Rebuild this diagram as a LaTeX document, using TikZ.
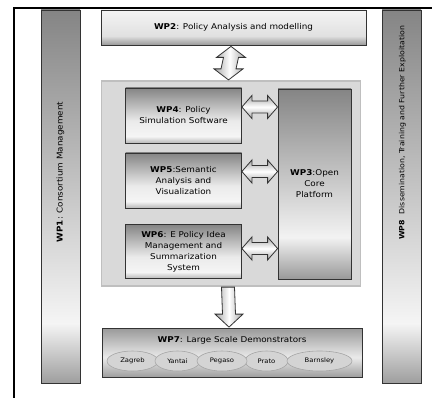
\documentclass[tikz,border=0pt]{standalone}
\usepackage{fontspec}
\setmainfont{DejaVu Sans}[FakeStretch=1.1]
\usetikzlibrary{shapes.geometric,calc}
\pgfdeclareverticalshading{barsh}{100bp}{color(0bp)=(black!38); color(25bp)=(black!38); color(33bp)=(black!4); color(75bp)=(black!48); color(100bp)=(black!48)}
\pgfdeclareverticalshading{wpsh}{100bp}{color(0bp)=(black!28); color(25bp)=(black!28); color(31bp)=(black!4); color(45bp)=(black!8); color(75bp)=(black!48); color(100bp)=(black!48)}
\pgfdeclareverticalshading{coresh}{100bp}{color(0bp)=(black!40); color(25bp)=(black!40); color(36bp)=(black!5); color(75bp)=(black!48); color(100bp)=(black!48)}
\pgfdeclareverticalshading{topsh}{100bp}{color(0bp)=(black!40); color(25bp)=(black!40); color(38bp)=(black!12); color(75bp)=(black!4); color(100bp)=(black!4)}
\pgfdeclareverticalshading{demosh}{100bp}{color(0bp)=(black!38); color(25bp)=(black!38); color(45bp)=(black!8); color(75bp)=(black!40); color(100bp)=(black!40)}
\tikzset{
  wpbox/.style={draw=black!80, line width=0.8pt, inner sep=0pt, align=center, font=\fontsize{8}{11}\selectfont},
  barbox/.style={wpbox, shading=barsh},
  arrline/.style={draw=black!80, line width=0.8pt, line join=miter},
  hdbl/.style={arrline, top color=black!35, bottom color=black!35, middle color=white,
    to path={-- ($(\tikztostart)+(10,-11.5)$) -- ($(\tikztostart)+(10,-6)$) -- ($(\tikztotarget)+(-10,-6)$) -- ($(\tikztotarget)+(-10,-11.5)$) -- (\tikztotarget) -- ($(\tikztotarget)+(-10,11.5)$) -- ($(\tikztotarget)+(-10,6)$) -- ($(\tikztostart)+(10,6)$) -- ($(\tikztostart)+(10,11.5)$) -- cycle}},
  vdbl/.style={arrline, left color=black!35, right color=black!35, middle color=white,
    to path={-- ($(\tikztostart)+(-14.5,11)$) -- ($(\tikztostart)+(-7.5,11)$) -- ($(\tikztotarget)+(-7.5,-11)$) -- ($(\tikztotarget)+(-14.5,-11)$) -- (\tikztotarget) -- ($(\tikztotarget)+(14.5,-11)$) -- ($(\tikztotarget)+(7.5,-11)$) -- ($(\tikztostart)+(7.5,11)$) -- ($(\tikztostart)+(14.5,11)$) -- cycle}},
  vdown/.style={arrline, left color=black!35, right color=black!35, middle color=white,
    to path={-- ($(\tikztostart)+(-6.5,0)$) -- ($(\tikztotarget)+(-6.5,-13)$) -- ($(\tikztotarget)+(-14,-13)$) -- (\tikztotarget) -- ($(\tikztotarget)+(14,-13)$) -- ($(\tikztotarget)+(6.5,-13)$) -- ($(\tikztostart)+(6.5,0)$) -- cycle}},
  city/.style={ellipse, draw=black!35, fill=black!17, line width=0.6pt, inner sep=0pt, minimum height=20pt, font=\fontsize{6.2}{6.2}\selectfont},
  frameline/.style={line width=1.5pt, black}
}
\begin{document}
\begin{tikzpicture}[x=1pt,y=-1pt]
\useasboundingbox (0,0) rectangle (433,398);
\coordinate (ftl) at (14,8);
\coordinate (fbl) at (14,399);
\coordinate (ftr) at (432,8);
\draw[frameline] (fbl) -- (ftl) -- (ftr);
% side bars
\node[barbox, minimum width=39pt, minimum height=373pt] (wp1) at (60.5,196.5) {};
\node[rotate=90, font=\fontsize{8}{10}\selectfont] (wp1t) at (60.5,172) {\textbf{WP1}: Consortium Management};
\node[barbox, minimum width=39pt, minimum height=373pt] (wp8) at (401.5,196.5) {};
\node[rotate=90, font=\fontsize{7.1}{10}\selectfont] (wp8t) at (402.5,133) {\textbf{WP8}\hspace{6pt}Dissemination, Training and Further Exploitation};
% top box
\node[wpbox, shading=topsh, minimum width=265pt, minimum height=35pt] (wp2) at (233.5,27.5) {\textbf{WP2}: Policy Analysis and modelling};
% panel
\node[draw=black!25, fill=black!15, line width=1.2pt, minimum width=259pt, minimum height=205pt] (panel) at (231,183.5) {};
\node[wpbox, shading=wpsh, minimum width=116pt, minimum height=55pt] (wp4) at (183.5,115.5) {\textbf{WP4}: Policy\\Simulation Software};
\node[wpbox, shading=wpsh, minimum width=116pt, minimum height=55pt] (wp5) at (183.5,180.5) {\textbf{WP5}:Semantic\\Analysis and\\Visualization};
\node[wpbox, shading=wpsh, minimum width=116pt, minimum height=54pt] (wp6) at (183.5,251.5) {\textbf{WP6}: E Policy Idea\\Management and\\Summarization\\System};
\node[wpbox, shading=coresh, minimum width=73pt, minimum height=190pt] (wp3) at (314.5,184) {\textbf{WP3}:Open\\Core\\Platform};
% arrows
\path[vdbl] ($(wp2.south)+(-2.5,1)$) to ($(panel.north)+(-2.5,-0.5)$);
\path[hdbl] ($(wp4.east)+(0,-8.5)$) to ($(wp3.west |- wp4.east)+(0,-8.5)$);
\path[hdbl] ($(wp5.east)+(0,-9)$) to ($(wp3.west |- wp5.east)+(0,-9)$);
\path[hdbl] ($(wp6.east)+(0,-3)$) to ($(wp3.west |- wp6.east)+(0,-3)$);
% bottom box
\node[wpbox, shading=demosh, minimum width=260pt, minimum height=49pt] (wp7) at (232,352.5) {};
\node[font=\fontsize{8}{10}\selectfont] (wp7t) at (232,340) {\textbf{WP7}: Large Scale Demonstrators};
\path[vdown] ($(panel.south)+(-3,0.5)$) to ($(wp7.north)+(-3,-0.5)$);
\node[city, minimum width=51pt] (zag) at (132.5,361) {Zagreb};
\node[city, minimum width=45pt] (yan) at (177.5,361) {Yantai};
\node[city, minimum width=43pt] (pra) at (266.5,361) {Prato};
\node[city, minimum width=50pt] (peg) at (222,361) {Pegaso};
\node[city, minimum width=65pt] (bar) at (319.5,361) {Barnsley};
\end{tikzpicture}
\end{document}
